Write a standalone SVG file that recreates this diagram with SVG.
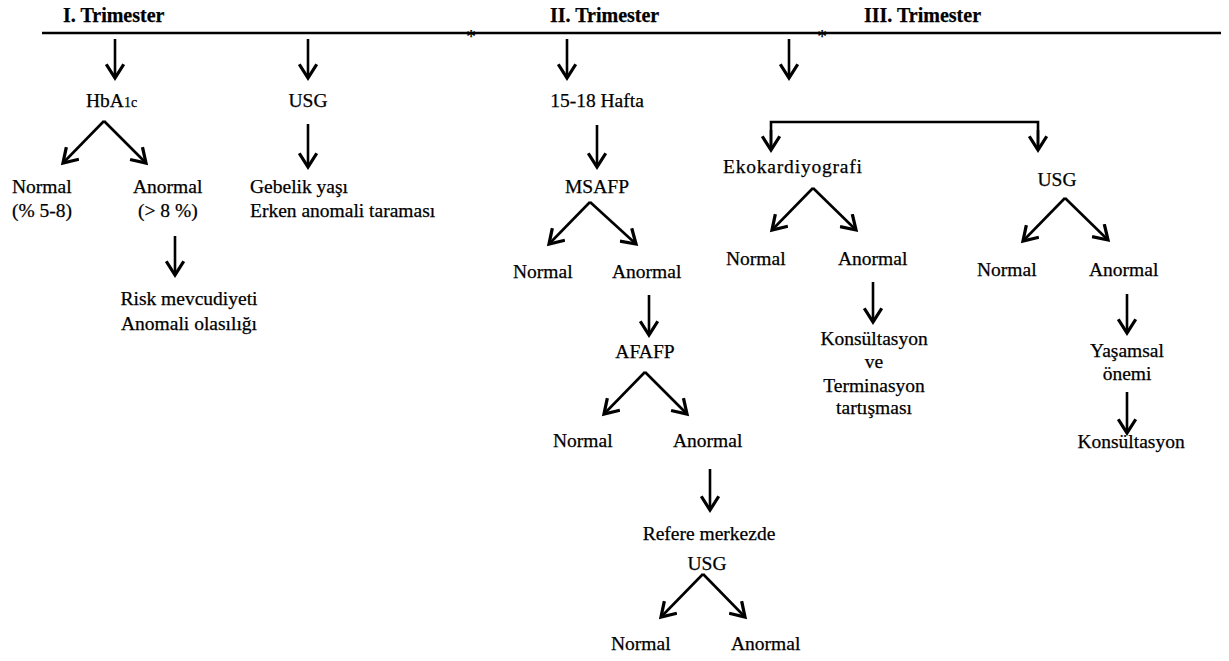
<svg xmlns="http://www.w3.org/2000/svg" width="1229" height="661" viewBox="0 0 1229 661">
<defs>
<marker id="ah" markerUnits="userSpaceOnUse" markerWidth="20" markerHeight="20" viewBox="-12 -8 14 16" refX="0" refY="0" orient="auto">
<path d="M-11,-7 L0,0 L-11,7" fill="none" stroke="#000" stroke-width="2.6"/>
</marker>
</defs>
<style>
text{font-family:"Liberation Serif","Times New Roman",serif;font-size:19.5px;fill:#000;stroke:#000;stroke-width:0.25}
.h{font-weight:bold;font-size:20px}
.c{text-anchor:middle}
.ln{stroke:#000;stroke-width:2.6;fill:none}
.ar{stroke:#000;stroke-width:2.6;fill:none;marker-end:url(#ah)}
</style>
<rect width="1229" height="661" fill="#fff"/>
<g id="timeline">
<line class="ln" x1="42" y1="33" x2="1221" y2="33" stroke-width="2.2"/>
<text x="471" y="43" class="c" font-size="14">*</text>
<text x="822" y="43" class="c" font-size="14">*</text>
<text id="t1" class="h" x="63" y="22">I. Trimester</text>
<text id="t2" class="h" x="550" y="22">II. Trimester</text>
<text id="t3" class="h" x="864" y="22">III. Trimester</text>
</g>
<g id="connectors">
<line class="ar" x1="115" y1="39" x2="115" y2="78"/>
<line class="ar" x1="308" y1="39" x2="308" y2="78"/>
<line class="ar" x1="567" y1="39" x2="567" y2="78"/>
<line class="ar" x1="789" y1="39" x2="789" y2="78"/>
<line class="ar" x1="104" y1="121" x2="63" y2="163"/>
<line class="ar" x1="104" y1="121" x2="146" y2="163"/>
<line class="ar" x1="175" y1="236" x2="175" y2="275"/>
<line class="ar" x1="308" y1="124" x2="308" y2="167"/>
<line class="ar" x1="597" y1="125" x2="597" y2="167"/>
<line class="ar" x1="590" y1="202" x2="549" y2="244"/>
<line class="ar" x1="590" y1="202" x2="636" y2="244"/>
<line class="ar" x1="649" y1="295" x2="649" y2="335"/>
<line class="ar" x1="645" y1="372" x2="604" y2="414"/>
<line class="ar" x1="645" y1="372" x2="687" y2="414"/>
<line class="ar" x1="710" y1="469" x2="710" y2="510"/>
<line class="ar" x1="703" y1="574" x2="661" y2="617"/>
<line class="ar" x1="703" y1="574" x2="745" y2="617"/>
<polyline class="ln" points="771,150 771,122 1038,122 1038,150"/>
<line class="ar" x1="771" y1="130" x2="771" y2="150"/>
<line class="ar" x1="1038" y1="130" x2="1038" y2="150"/>
<line class="ar" x1="813" y1="188" x2="772" y2="230"/>
<line class="ar" x1="813" y1="188" x2="856" y2="230"/>
<line class="ar" x1="873" y1="282" x2="873" y2="322"/>
<line class="ar" x1="1065" y1="198" x2="1023" y2="241"/>
<line class="ar" x1="1065" y1="198" x2="1108" y2="240"/>
<line class="ar" x1="1127" y1="294" x2="1127" y2="333"/>
<line class="ar" x1="1127" y1="392" x2="1127" y2="433"/>
</g>
<g id="hba1c"><text x="86" y="107">HbA<tspan font-size="14">1c</tspan></text></g>
<g id="usg1"><text class="c" x="308" y="107">USG</text></g>
<g id="normal1"><text x="12" y="193">Normal</text><text x="12" y="217">(% 5-8)</text></g>
<g id="anormal1"><text x="133" y="193">Anormal</text><text x="138" y="217">(&gt; 8 %)</text></g>
<g id="risk"><text class="c" x="189" y="305">Risk mevcudiyeti</text><text class="c" x="189" y="330">Anomali olasılığı</text></g>
<g id="gebelik"><text x="250" y="193">Gebelik yaşı</text><text x="250" y="217">Erken anomali taraması</text></g>
<g id="hafta"><text class="c" x="597" y="107">15-18 Hafta</text></g>
<g id="msafp"><text class="c" x="597" y="193">MSAFP</text></g>
<g id="normal2"><text x="513" y="278">Normal</text></g>
<g id="anormal2"><text x="612" y="278">Anormal</text></g>
<g id="afafp"><text class="c" x="645" y="358">AFAFP</text></g>
<g id="normal3"><text x="553" y="447">Normal</text></g>
<g id="anormal3"><text x="673" y="447">Anormal</text></g>
<g id="refere"><text class="c" x="709" y="540">Refere merkezde</text><text class="c" x="707" y="570">USG</text></g>
<g id="normal4"><text x="611" y="650">Normal</text></g>
<g id="anormal4"><text x="731" y="650">Anormal</text></g>
<g id="eko"><text x="723" y="173" textLength="139">Ekokardiyografi</text></g>
<g id="normal5"><text x="726" y="265">Normal</text></g>
<g id="anormal5"><text x="838" y="265">Anormal</text></g>
<g id="kons1"><text class="c" x="874" y="345">Konsültasyon</text><text class="c" x="874" y="368">ve</text><text class="c" x="874" y="392">Terminasyon</text><text class="c" x="874" y="414">tartışması</text></g>
<g id="usg3"><text class="c" x="1057" y="186">USG</text></g>
<g id="normal6"><text x="977" y="276">Normal</text></g>
<g id="anormal6"><text x="1089" y="276">Anormal</text></g>
<g id="yasamsal"><text class="c" x="1127" y="357">Yaşamsal</text><text class="c" x="1127" y="380">önemi</text></g>
<g id="kons2"><text class="c" x="1131" y="448">Konsültasyon</text></g>
</svg>
